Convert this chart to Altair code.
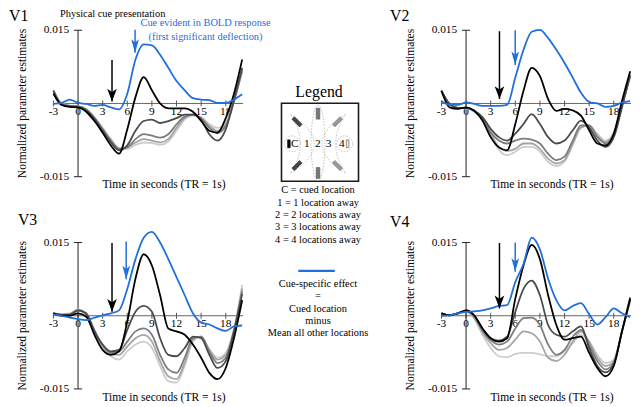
import altair as alt
import pandas as pd

FONT = "Liberation Serif"
BLUE = "#1f6fdc"
UNIT = 0.001  # series values below are in units of 0.001

TIME = [-3, -2, -1, 0, 1, 2, 3, 4, 5, 6, 7, 8, 9, 10, 11, 12, 13, 14, 15, 16, 17, 18, 19, 20]
SERIES = ["4", "3", "2", "1", "C", "Cue"]  # drawing order: lightest first, cue effect on top
SERIES_COLORS = ["#cdcdcd", "#a5a5a5", "#7d7d7d", "#4b4b4b", "#000000", BLUE]
XTICKS = [-3, 0, 3, 6, 9, 12, 15, 18]
YTICKS = [-0.015, 0.015]

# ---- V1 ----
V1_4 = [2.8, 0.0, -0.4, -0.5, -1.1, -2.8, -5.0, -7.3, -9.1, -9.3, -8.5, -8.0, -8.1, -8.5, -7.8, -5.6, -3.3, -2.5, -2.8, -4.2, -5.0, -4.0, 0.7, 6.3]
V1_3 = [2.7, -0.1, -0.5, -0.6, -1.2, -2.9, -5.2, -7.5, -9.3, -9.0, -8.0, -7.3, -7.6, -8.0, -7.3, -5.0, -3.0, -2.3, -3.0, -4.6, -5.6, -4.3, 0.5, 6.6]
V1_2 = [2.7, -0.1, -0.5, -0.6, -1.3, -3.0, -5.3, -7.6, -9.3, -9.0, -7.3, -6.3, -6.6, -7.0, -6.3, -4.3, -2.7, -2.3, -3.0, -5.0, -6.0, -4.6, 0.3, 7.0]
V1_1 = [2.5, -0.2, -0.6, -0.7, -1.4, -3.2, -5.6, -8.0, -9.6, -8.6, -5.6, -3.6, -3.3, -4.0, -3.6, -3.0, -2.3, -2.3, -3.3, -6.3, -7.6, -5.3, 0.7, 7.3]
V1_C = [2.0, -0.3, -0.7, -0.8, -1.7, -3.6, -6.0, -8.6, -10.3, -5.3, 1.3, 5.4, 2.7, 0.0, -1.0, -1.0, -1.0, -1.7, -3.6, -5.6, -6.0, -3.0, 2.0, 9.0]
V1_CUE = [-0.1, 0.1, 0.8, 0.1, -0.1, -0.5, -0.3, -0.8, -1.2, 2.0, 9.0, 12.1, 11.9, 10.0, 7.3, 4.6, 2.7, 1.1, 0.8, 0.7, 0.1, 0.1, 0.8, 1.9]

# ---- V2 ----
V2_4 = [2.6, -0.1, -0.9, -1.0, -1.7, -3.4, -6.6, -9.5, -10.6, -9.9, -8.9, -8.9, -9.9, -12.0, -12.8, -11.9, -8.5, -5.0, -4.5, -6.2, -7.6, -5.9, -0.1, 5.6]
V2_3 = [2.6, -0.1, -0.9, -0.9, -1.6, -3.2, -6.2, -8.9, -9.7, -9.3, -8.2, -8.2, -9.3, -11.3, -12.3, -11.6, -8.2, -4.9, -4.5, -6.6, -7.9, -6.2, -0.3, 5.6]
V2_2 = [2.6, -0.1, -0.9, -0.9, -1.5, -3.0, -5.9, -7.6, -8.2, -7.6, -7.2, -7.4, -8.2, -10.3, -11.6, -10.9, -7.6, -4.5, -4.5, -6.9, -8.2, -6.6, -0.5, 5.6]
V2_1 = [2.6, -0.1, -0.9, -0.9, -1.5, -2.8, -5.2, -6.9, -7.6, -6.2, -4.2, -2.2, -4.2, -6.9, -8.2, -7.6, -5.5, -3.5, -4.9, -7.6, -8.9, -6.9, -0.8, 5.9]
V2_C = [2.6, -0.8, -1.1, -0.8, -1.5, -3.5, -6.9, -9.0, -9.6, -4.2, 2.6, 7.3, 5.6, 0.9, -1.5, -1.1, -1.4, -2.5, -5.5, -8.2, -8.6, -6.2, 0.5, 6.6]
V2_CUE = [0.5, -0.3, -0.3, 0.2, -0.1, -0.5, -0.5, -0.5, -0.3, 5.3, 11.0, 14.7, 15.1, 13.4, 11.0, 8.3, 5.3, 2.2, 0.3, 0.0, -0.7, -0.5, 0.2, 0.5]

# ---- V3 ----
V3_4 = [0.5, 0.3, 0.5, 1.3, 0.4, -2.8, -6.3, -8.3, -9.0, -7.3, -5.9, -5.3, -6.6, -10.3, -13.4, -13.7, -10.3, -5.3, -4.3, -6.8, -8.6, -7.6, -2.6, 6.3]
V3_3 = [0.5, 0.3, 0.4, 1.2, 0.3, -3.0, -6.2, -7.8, -8.0, -6.3, -4.6, -3.9, -5.3, -9.3, -12.4, -13.0, -9.6, -4.9, -4.3, -7.0, -9.0, -8.0, -2.9, 5.6]
V3_2 = [0.5, 0.2, 0.3, 1.1, 0.3, -3.2, -6.0, -7.6, -7.3, -5.3, -3.2, -2.6, -3.9, -8.0, -11.0, -11.7, -8.6, -4.6, -4.3, -7.4, -9.7, -8.6, -3.2, 5.0]
V3_1 = [0.5, 0.2, 0.2, 1.1, 0.5, -3.2, -5.9, -7.3, -7.0, -2.9, 0.8, 2.0, 0.8, -4.6, -8.0, -8.3, -6.6, -4.3, -4.6, -8.0, -10.7, -9.3, -3.2, 4.5]
V3_C = [0.5, 0.0, 0.0, 0.5, -0.2, -3.9, -7.0, -8.0, -7.3, -1.2, 7.6, 12.6, 10.3, 4.2, -2.6, -3.2, -3.9, -5.9, -8.6, -11.7, -13.0, -10.7, -4.6, 3.2]
V3_CUE = [0.3, 0.0, -0.4, -0.7, -0.9, -0.4, 0.1, 0.5, 1.1, 5.5, 11.6, 16.0, 17.2, 15.0, 11.6, 7.9, 4.2, 0.5, -1.4, -1.8, -2.6, -3.1, -2.2, -2.0]

# ---- V4 ----
V4_4 = [0.5, 0.1, 0.4, 0.8, -0.6, -3.9, -6.6, -8.3, -8.5, -7.8, -7.6, -7.6, -7.9, -8.3, -8.3, -7.3, -5.6, -3.9, -5.3, -8.0, -9.7, -9.0, -3.2, 2.9]
V4_3 = [0.5, 0.1, 0.5, 0.9, -0.4, -3.4, -5.6, -7.0, -6.6, -4.9, -3.2, -3.6, -5.3, -8.6, -9.3, -8.0, -5.3, -3.2, -5.3, -8.6, -10.3, -9.3, -3.2, 3.1]
V4_2 = [0.5, 0.1, 0.5, 1.0, -0.2, -3.0, -5.0, -5.9, -5.3, -2.6, -0.5, -0.4, -1.9, -5.9, -8.0, -7.0, -4.3, -2.9, -5.9, -9.3, -11.0, -9.6, -3.2, 3.4]
V4_1 = [0.5, 0.1, 0.5, 1.1, 0.0, -2.6, -4.6, -5.1, -4.3, 0.8, 5.5, 7.2, 4.2, -1.9, -3.9, -4.3, -3.2, -2.2, -6.6, -10.3, -11.6, -9.9, -3.2, 3.8]
V4_C = [0.5, 0.1, 0.5, 1.1, 0.1, -2.6, -4.6, -5.3, -4.6, 3.5, 10.3, 14.5, 11.6, 4.2, -1.9, -4.9, -4.6, -4.3, -7.6, -10.7, -12.4, -10.3, -3.2, 3.5]
V4_CUE = [0.0, 0.1, 0.5, 0.8, 0.9, 1.1, 1.5, 2.0, 2.2, 6.9, 10.6, 16.0, 13.6, 7.6, 3.2, 1.1, 2.0, 2.6, 0.3, -1.8, -0.3, 1.5, 0.5, -0.3]

# arrows: (time, top value, tip value)
ARROWS_BLACK = {"V1": (4.14, 0.0089, 0.0004), "V2": (4.07, 0.0148, 0.0009),
                "V3": (4.14, 0.0149, 0.0008), "V4": (4.07, 0.0149, 0.0015)}
ARROWS_BLUE = {"V1": (6.95, 0.0151, 0.0104), "V2": (5.99, 0.0150, 0.0079),
               "V3": (5.87, 0.0152, 0.0075), "V4": (5.99, 0.0150, 0.0090)}

X_TITLE = "Time in seconds (TR = 1s)"
Y_TITLE = "Normalized parameter estimates"
CUE_NOTE = "Physical cue presentation"
BOLD_NOTE = ["Cue evident in BOLD response", "(first significant deflection)"]
LEGEND_LINES = ["C = cued location", "1 = 1 location away", "2 = 2 locations away",
                "3 = 3 locations away", "4 = 4 locations away"]
EFFECT_LINES = ["Cue-specific effect", "=", "Cued location", "minus", "Mean all other locations"]
BOX_LABELS = ["C", "1", "2", "3", "4"]

# ---------------- layout ----------------
W, H = 192, 173
LEG_W = 201
XMIN, XMAX = -3, 20.1
YMIN, YMAX = -0.0165, 0.0185
PX_PER_V = H / (YMAX - YMIN)
XS = alt.Scale(domain=[XMIN, XMAX], nice=False, zero=False)
YS = alt.Scale(domain=[YMIN, YMAX], nice=False, zero=False)

BLACK_HEAD = "M0,0 L-0.75,-2 L0,-1.5 L0.75,-2 Z"
BLUE_HEAD = "M0,0 L-0.6,-2.1 L0,-1.6 L0.6,-2.1 Z"


def xe(f="t"):
    return alt.X(f"{f}:Q", scale=XS, axis=None)


def ye(f="v"):
    return alt.Y(f"{f}:Q", scale=YS, axis=None)


def texts(rows, color, size, align="center", baseline="middle", angle=0):
    return alt.Chart(pd.DataFrame(rows)).mark_text(
        font=FONT, fontSize=size, color=color, align=align, baseline=baseline, angle=angle
    ).encode(x=xe(), y=ye(), text="txt:N")


def make_panel(name, values, label_pos, black_notes=None, blue_notes=None):
    rows = []
    for s, vals in zip(SERIES, values):
        for t, v in zip(TIME, vals):
            rows.append({"t": t, "v": v * UNIT, "s": s})
    df = pd.DataFrame(rows)

    lines = alt.Chart(df).mark_line(interpolate="monotone", strokeWidth=1.8).encode(
        x=xe(), y=ye(),
        color=alt.Color("s:N", scale=alt.Scale(domain=SERIES, range=SERIES_COLORS), legend=None),
    )
    # axes drawn with the panel's own scales
    xline = alt.Chart(pd.DataFrame({"t": [XMIN], "t2": [XMAX], "v": [0.0]})).mark_rule(
        color="#666", strokeWidth=1).encode(x=xe(), x2="t2:Q", y=ye())
    yline = alt.Chart(pd.DataFrame({"t": [0], "v": [YTICKS[0]], "v2": [YTICKS[-1]]})).mark_rule(
        color="#222", strokeWidth=1).encode(x=xe(), y=ye(), y2="v2:Q")
    yticks = alt.Chart(pd.DataFrame({"t": [-0.5] * len(YTICKS), "t2": [0.5] * len(YTICKS), "v": YTICKS})).mark_rule(
        color="#222", strokeWidth=1).encode(x=xe(), x2="t2:Q", y=ye())
    xticks = alt.Chart(pd.DataFrame({"t": XTICKS, "v": [-3 / PX_PER_V] * len(XTICKS),
                                     "v2": [3 / PX_PER_V] * len(XTICKS)})).mark_rule(
        color="#555", strokeWidth=1).encode(x=xe(), y=ye(), y2="v2:Q")
    xlabels = texts([{"t": t, "v": -8.5 / PX_PER_V, "txt": str(t)} for t in XTICKS], "black", 11.5)
    ylabels = texts([{"t": -1.08, "v": v, "txt": f"{v:.3f}"} for v in YTICKS], "black", 11.5, align="right")
    xtitle = texts([{"t": 10.47, "v": -82 / PX_PER_V, "txt": X_TITLE}], "black", 11.7)
    ytitle = texts([{"t": -6.85, "v": 0.0, "txt": Y_TITLE}], "black", 11.7, angle=270)

    layers = [xline, xticks, xlabels, yline, yticks, ylabels, xtitle, ytitle, lines]
    for (t, top, tip), color, path in [(ARROWS_BLACK[name], "black", BLACK_HEAD), (ARROWS_BLUE[name], BLUE, BLUE_HEAD)]:
        layers.append(alt.Chart(pd.DataFrame({"t": [t], "v": [top], "v2": [tip]})).mark_rule(
            color=color, strokeWidth=1.5).encode(x=xe(), y=ye(), y2="v2:Q"))
        layers.append(alt.Chart(pd.DataFrame({"t": [t], "v": [tip]})).mark_point(
            shape=path, filled=True, size=169, color=color, opacity=1, strokeWidth=0).encode(x=xe(), y=ye()))

    layers.append(texts([{"t": label_pos[0], "v": label_pos[1], "txt": name}], "black", 16,
                        align="left", baseline="alphabetic"))
    if black_notes:
        layers.append(texts(black_notes, "black", 10.5))
    if blue_notes:
        layers.append(texts(blue_notes, BLUE, 10.5))
    return alt.layer(*layers).properties(width=W, height=H)


p1 = make_panel("V1", [V1_4, V1_3, V1_2, V1_1, V1_C, V1_CUE], (-8.4, 0.0170),
                black_notes=[{"t": 4.22, "v": 0.01834, "txt": CUE_NOTE}],
                blue_notes=[{"t": 15.53, "v": 0.01641, "txt": BOLD_NOTE[0]},
                            {"t": 15.53, "v": 0.01368, "txt": BOLD_NOTE[1]}])
p2 = make_panel("V2", [V2_4, V2_3, V2_2, V2_1, V2_C, V2_CUE], (-9.26, 0.0170))
p3 = make_panel("V3", [V3_4, V3_3, V3_2, V3_1, V3_C, V3_CUE], (-7.33, 0.01864))
p4 = make_panel("V4", [V4_4, V4_3, V4_2, V4_1, V4_C, V4_CUE], (-9.26, 0.01824))

# ---------------- legend ----------------
LXS = alt.Scale(domain=[0, LEG_W], nice=False, zero=False)
LYS = alt.Scale(domain=[0, H], nice=False, zero=False, reverse=True)


def lx(f="x"):
    return alt.X(f"{f}:Q", scale=LXS, axis=None)


def ly(f="y"):
    return alt.Y(f"{f}:Q", scale=LYS, axis=None)


def ltexts(rows, size, color="black"):
    return alt.Chart(pd.DataFrame(rows)).mark_text(
        font=FONT, fontSize=size, color=color, align="center", baseline="middle"
    ).encode(x=lx(), y=ly(), text="txt:N")


ELLIPSE = "M0,-1 A0.184,1 0 1,1 0,1 A0.184,1 0 1,1 0,-1 Z"
LEFT_CRESCENT = "M-0.4,-1 Q1.2,0 -0.4,1 Q0.27,0 -0.4,-1 Z"
RIGHT_CRESCENT = "M0.4,-1 Q-1.2,0 0.4,1 Q-0.27,0 0.4,-1 Z"
BAR = "M-0.33,-1 L0.33,-1 L0.33,1 L-0.33,1 Z"

box = alt.Chart(pd.DataFrame([{"x": 39, "x2": 117, "y": 91.3, "y2": 170.3}])).mark_rect(
    fill="white", stroke="#1a1a1a", strokeWidth=1.6).encode(x=lx(), x2="x2:Q", y=ly(), y2="y2:Q")
outlines = alt.Chart(pd.DataFrame([
    {"x": 50, "y": 132.3, "shape": "circle", "size": 256},
    {"x": 103, "y": 132.3, "shape": "circle", "size": 256},
    {"x": 76, "y": 131.3, "shape": ELLIPSE, "size": 5776},
    {"x": 60, "y": 132.3, "shape": LEFT_CRESCENT, "size": 3600},
    {"x": 92, "y": 132.3, "shape": RIGHT_CRESCENT, "size": 3600},
])).mark_point(filled=False, stroke="#b0b0b0", strokeWidth=0.8, strokeDash=[1.5, 1.5], opacity=1).encode(
    x=lx(), y=ly(), shape=alt.Shape("shape:N", scale=None), size=alt.Size("size:Q", scale=None))
bars = alt.Chart(pd.DataFrame([
    {"x": 46.5, "y": 132.3, "a": 0, "f": "#000000", "st": "#000000", "size": 64},
    {"x": 106, "y": 132.3, "a": 0, "f": "#e4e4e4", "st": "#555555", "size": 64},
    {"x": 76, "y": 101.8, "a": 0, "f": "#777777", "st": "#555555", "size": 121},
    {"x": 76, "y": 161.8, "a": 0, "f": "#777777", "st": "#555555", "size": 121},
    {"x": 54.7, "y": 110, "a": 315, "f": "#444444", "st": "#333333", "size": 121},
    {"x": 54.7, "y": 154.3, "a": 45, "f": "#444444", "st": "#333333", "size": 121},
    {"x": 95.7, "y": 110, "a": 45, "f": "#999999", "st": "#777777", "size": 121},
    {"x": 95.7, "y": 154.3, "a": 315, "f": "#999999", "st": "#777777", "size": 121},
])).mark_point(shape=BAR, filled=True, strokeWidth=0.6, opacity=1).encode(
    x=lx(), y=ly(), angle=alt.Angle("a:Q", scale=None), fill=alt.Fill("f:N", scale=None),
    stroke=alt.Stroke("st:N", scale=None), size=alt.Size("size:Q", scale=None))

box_label_x = [52.5, 64.7, 75.7, 86.7, 100]
leg_top = alt.layer(
    box, outlines, bars,
    ltexts([{"x": 77, "y": 80.3, "txt": "Legend"}], 16),
    ltexts([{"x": bx, "y": 132.3, "txt": s} for bx, s in zip(box_label_x, BOX_LABELS)], 11.5),
    ltexts([{"x": 76, "y": yy, "txt": s} for yy, s in zip([179.3, 192.0, 204.3, 217.0, 229.8], LEGEND_LINES)], 10.5),
).properties(width=LEG_W, height=H)

leg_bot = alt.layer(
    alt.Chart(pd.DataFrame([{"x": 56, "x2": 93, "y": 46}])).mark_rule(color=BLUE, strokeWidth=2.5).encode(
        x=lx(), x2="x2:Q", y=ly()),
    ltexts([{"x": 76, "y": yy, "txt": s} for yy, s in zip([59.6, 71.0, 84.3, 97.0, 109.3], EFFECT_LINES)], 10.5),
).properties(width=LEG_W, height=H)

chart = alt.concat(p1, leg_top, p2, p3, leg_bot, p4, columns=3,
                   spacing={"row": 42, "column": 0}, bounds="flush").properties(
    autosize=alt.AutoSizeParams(type="none"),
    padding={"left": 46, "top": 2.7, "right": 586, "bottom": 396},
).configure_view(strokeWidth=0)

chart.save("out.html", embed_options={"renderer": "svg", "actions": False})
